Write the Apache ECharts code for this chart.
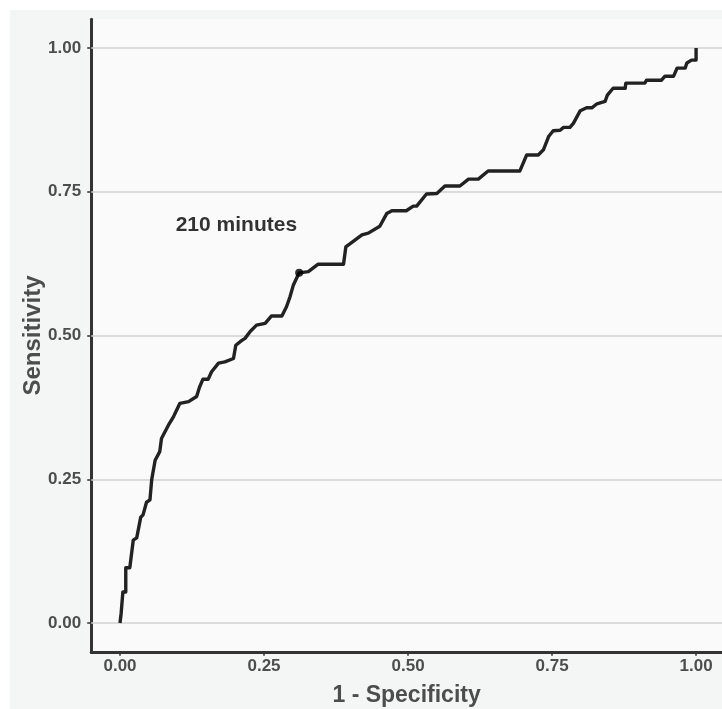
<!DOCTYPE html>
<html>
<head>
	<meta charset="utf-8">
	<title>ROC curve</title>
	<script src="https://cdn.jsdelivr.net/npm/echarts@6/dist/echarts.min.js"></script>
	<style type="text/css">
		* { padding: 0; margin: 0; }
		html, body { background: #ffffff; }
		#chart { width: 722px; height: 709px; }
	</style>
</head>
<body>
	<div id="chart"></div>
	<script type="text/javascript">
		// 1 - specificity (x) and sensitivity (y)
		var fpr = [0.000, 0.002, 0.005, 0.010, 0.010, 0.017, 0.023, 0.029, 0.036, 0.040,
			0.046, 0.052, 0.055, 0.061, 0.069, 0.072, 0.084, 0.093, 0.104, 0.119,
			0.133, 0.138, 0.144, 0.153, 0.159, 0.171, 0.182, 0.197, 0.201, 0.211,
			0.217, 0.226, 0.237, 0.252, 0.263, 0.281, 0.289, 0.295, 0.301, 0.311,
			0.327, 0.344, 0.388, 0.392, 0.420, 0.431, 0.451, 0.463, 0.472, 0.497,
			0.509, 0.515, 0.532, 0.550, 0.564, 0.590, 0.605, 0.622, 0.639, 0.694,
			0.706, 0.726, 0.735, 0.744, 0.752, 0.764, 0.770, 0.781, 0.787, 0.799,
			0.810, 0.819, 0.828, 0.842, 0.846, 0.856, 0.877, 0.878, 0.911, 0.914,
			0.940, 0.946, 0.961, 0.967, 0.981, 0.984, 0.992, 1.000, 1.000];
		var sens = [0.000, 0.017, 0.054, 0.054, 0.096, 0.096, 0.144, 0.148, 0.184, 0.188,
			0.210, 0.214, 0.249, 0.283, 0.298, 0.321, 0.344, 0.359, 0.382, 0.385,
			0.394, 0.410, 0.424, 0.424, 0.437, 0.452, 0.454, 0.460, 0.483, 0.491,
			0.495, 0.507, 0.518, 0.521, 0.534, 0.534, 0.550, 0.567, 0.588, 0.609,
			0.611, 0.624, 0.624, 0.654, 0.675, 0.678, 0.690, 0.712, 0.717, 0.717,
			0.725, 0.725, 0.746, 0.747, 0.760, 0.760, 0.772, 0.772, 0.786, 0.786,
			0.814, 0.814, 0.823, 0.846, 0.856, 0.857, 0.862, 0.862, 0.869, 0.891,
			0.896, 0.896, 0.903, 0.907, 0.918, 0.930, 0.930, 0.939, 0.939, 0.944,
			0.944, 0.951, 0.951, 0.965, 0.965, 0.974, 0.979, 0.979, 1.000];
		var tickValues = [0, 0.25, 0.5, 0.75, 1];
		var cutoffPoint = [0.311, 0.609];
		var cutoffLabel = '210 minutes';
		var cutoffLabelPos = [0.202, 0.692];

		var curve = [];
		for (let i = 0; i < fpr.length; i++) {
			curve.push([fpr[i], sens[i]]);
		}
		var fmt = function (v) { return v.toFixed(2); };
		var textColor = '#4d4d4d';

		var chart = echarts.init(document.getElementById('chart'));
		chart.setOption({
			backgroundColor: '#ffffff',
			animation: false,
			graphic: [{
				type: 'rect',
				left: 10, top: 10,
				shape: { width: 712, height: 699 },
				style: { fill: '#f4f5f5' },
				z: -10
			}],
			grid: {
				left: 91.2, right: 0, top: 19.25, bottom: 57.25,
				containLabel: false,
				outerBoundsMode: 'none',
				show: true,
				backgroundColor: '#fafafa',
				borderWidth: 0
			},
			xAxis: {
				type: 'value',
				min: -0.05, max: 1.045,
				name: '1 - Specificity',
				nameLocation: 'middle',
				nameGap: 32,
				nameMoveOverlap: false,
				nameTextStyle: { fontFamily: 'Liberation Sans', fontWeight: 'bold', fontSize: 23, color: textColor },
				axisLine: { show: true, onZero: false, lineStyle: { color: '#333333', width: 3 } },
				axisTick: { show: true, customValues: tickValues, length: 4, lineStyle: { color: '#333333', width: 1.5 } },
				axisLabel: { customValues: tickValues, formatter: fmt, margin: 6, fontFamily: 'Liberation Sans', fontWeight: 'bold', fontSize: 17, color: textColor },
				splitLine: { show: false }
			},
			yAxis: {
				type: 'value',
				min: -0.05, max: 1.05,
				name: 'Sensitivity',
				nameLocation: 'middle',
				nameGap: 46,
				nameMoveOverlap: false,
				nameTextStyle: { fontFamily: 'Liberation Sans', fontWeight: 'bold', fontSize: 24, color: textColor },
				axisLine: { show: true, onZero: false, lineStyle: { color: '#333333', width: 3 } },
				axisTick: { show: true, customValues: tickValues, length: 4, lineStyle: { color: '#333333', width: 1.5 } },
				axisLabel: { customValues: tickValues, formatter: fmt, margin: 10, fontFamily: 'Liberation Sans', fontWeight: 'bold', fontSize: 17, color: textColor },
				splitLine: { show: false }
			},
			series: [
				{
					type: 'line',
					data: curve,
					symbol: 'none',
					lineStyle: { color: '#222222', width: 3.4, join: 'round' },
					z: 5,
					markLine: {
						silent: true,
						symbol: 'none',
						label: { show: false },
						lineStyle: { color: '#d0d0d0', width: 1.5, type: 'solid' },
						data: tickValues.map(function (v) { return { yAxis: v }; }),
						z: 1
					}
				},
				{
					type: 'scatter',
					data: [cutoffPoint],
					symbol: 'circle',
					symbolSize: 8,
					itemStyle: { color: '#000000' },
					z: 6
				},
				{
					type: 'scatter',
					data: [cutoffLabelPos],
					symbolSize: 0,
					label: {
						show: true,
						position: 'inside',
						formatter: cutoffLabel,
						fontFamily: 'Liberation Sans',
						fontWeight: 'bold',
						fontSize: 21,
						color: '#000000'
					},
					z: 6
				}
			]
		});
	</script>
</body>
</html>
